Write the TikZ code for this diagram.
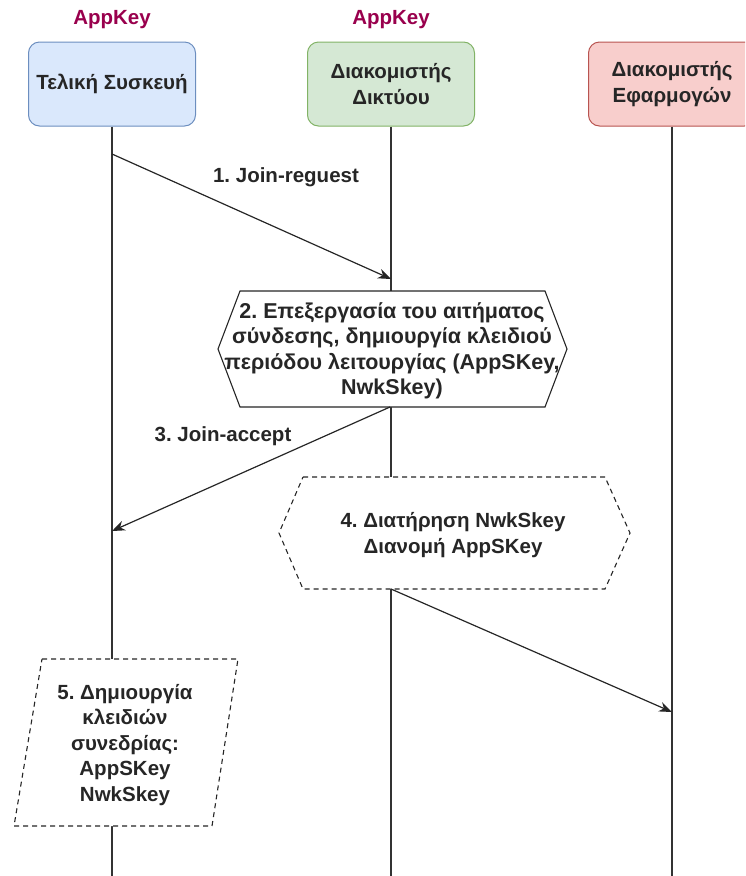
\documentclass[tikz,border=0pt]{standalone}
\usepackage{fontspec}
\setmainfont{Liberation Sans}
\usetikzlibrary{arrows.meta}
\definecolor{keycol}{HTML}{99004D}
\definecolor{bluefill}{HTML}{DAE8FC}
\definecolor{bluedraw}{HTML}{6C8EBF}
\definecolor{greenfill}{HTML}{D5E8D4}
\definecolor{greendraw}{HTML}{82B366}
\definecolor{redfill}{HTML}{F8CECC}
\definecolor{reddraw}{HTML}{B85450}
\frenchspacing
\begin{document}
\begin{tikzpicture}[x=1pt,y=-1pt,
  txt/.style={font=\bfseries\fontsize{20.5}{25.5}\selectfont, align=center, text=black!85},
  head/.style={txt, draw, rounded corners=11pt, line width=1pt,
    minimum width=167pt, minimum height=84pt},
  keylabel/.style={txt, text=keycol},
  life/.style={line width=1.2pt, draw=black!80},
  msg/.style={line width=1.2pt, draw=black!85, -{Stealth[length=13pt,width=10pt]}},
  procbox/.style={line width=1.1pt, draw=black!85, fill=white},
  dashbox/.style={procbox, dash pattern=on 5pt off 4pt}]
\useasboundingbox (0,0) rectangle (745,876);
\clip (0,0) rectangle (745,876);

% participants
\node[head, fill=bluefill, draw=bluedraw] (dev) at (112,84) {Τελική Συσκευή};
\node[head, fill=greenfill, draw=greendraw] (ns) at (391,84) {Διακομιστής\\Δικτύου};
\node[head, fill=redfill, draw=reddraw] (as) at (672,84) {Διακομιστής\\Εφαρμογών};
\node[keylabel] (k1) at (112,20) {AppKey};
\node[keylabel] (k2) at (391,20) {AppKey};

% lifelines
\coordinate (devEnd) at (112,876);
\coordinate (nsEnd) at (391,876);
\coordinate (asEnd) at (672,876);
\draw[life] (dev.south) -- (devEnd);
\draw[life] (ns.south) -- (nsEnd);
\draw[life] (as.south) -- (asEnd);

% message end points
\coordinate (m1a) at (112,154);
\coordinate (m1b) at (391,279);
\coordinate (m3a) at (390,407);
\coordinate (m3b) at (112,531);
\coordinate (m4a) at (391,589);
\coordinate (m4b) at (672,712);

% step 2: processing of the join request
\draw[procbox] (240,291) -- (545,291) -- (567,349) -- (545,407) -- (240,407)
  -- (218,349) -- cycle;
\node[txt, font=\bfseries\fontsize{21.5}{25.5}\selectfont] (s2) at (392,351)
  {2. Επεξεργασία του αιτήματος\\σύνδεσης, δημιουργία κλειδιού\\περιόδου λειτουργίας (AppSKey,\\NwkSkey)};

% step 4: key handling on the network server
\draw[dashbox] (303,477) -- (605,477) -- (630,533) -- (605,589) -- (303,589)
  -- (279,533) -- cycle;
\node[txt] (s4) at (453,535) {4. Διατήρηση NwkSkey\\Διανομή AppSKey};

% step 5: session keys on the end device
\draw[dashbox] (42,659) -- (238,659) -- (212,826) -- (14,826) -- cycle;
\node[txt] (s5) at (125,745) {5. Δημιουργία\\κλειδιών\\συνεδρίας:\\AppSKey\\NwkSkey};

% messages
\draw[msg] (m1a) -- (m1b);
\node[txt] (l1) at (286,177) {1. Join-reguest};
\draw[msg] (m3a) -- (m3b);
\node[txt] (l3) at (223,436) {3. Join-accept};
\draw[msg] (m4a) -- (m4b);
\end{tikzpicture}
\end{document}
